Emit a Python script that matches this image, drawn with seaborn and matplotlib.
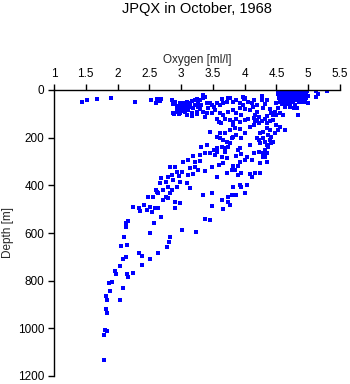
import matplotlib
matplotlib.use("Agg")
import matplotlib.pyplot as plt
import seaborn as sns
import pandas as pd

title = "JPQX in October, 1968"
x_label = "Oxygen [ml/l]"
y_label = "Depth [m]"
x_ticks = [1, 1.5, 2, 2.5, 3, 3.5, 4, 4.5, 5, 5.5]
x_tick_labels = ["1", "1.5", "2", "2.5", "3", "3.5", "4", "4.5", "5", "5.5"]
y_ticks = [0, 200, 400, 600, 800, 1000, 1200]

# (oxygen [ml/l], depth [m]) samples
shallow_low = [(1.44, 52), (1.52, 42), (1.67, 38), (1.89, 32), (2.28, 52), (2.52, 41),
               (2.62, 36), (2.69, 36), (2.60, 53), (2.66, 46), (2.86, 43), (2.89, 56),
               (2.91, 59), (2.93, 77), (2.97, 80), (2.89, 102), (2.97, 102)]

upper_cluster = [(2.85, 42), (2.87, 59), (2.90, 60), (2.98, 56), (3.04, 53), (3.09, 49), (3.14, 53),
                 (3.17, 46), (3.22, 63), (3.27, 53), (3.30, 42), (3.35, 35), (3.38, 28), (3.40, 56),
                 (3.45, 53), (3.48, 63), (3.51, 70), (2.93, 77), (2.98, 81), (3.06, 91), (3.11, 84),
                 (3.17, 98), (3.25, 91), (3.30, 81), (3.35, 91), (3.40, 98), (3.48, 98), (3.53, 84),
                 (3.56, 56), (3.61, 63), (3.66, 56), (3.72, 49), (3.77, 35), (3.82, 49), (3.87, 42),
                 (3.93, 56), (3.98, 63), (4.00, 35), (4.06, 49), (4.11, 56), (4.14, 42), (2.88, 98),
                 (2.98, 98), (3.09, 105), (3.17, 109), (3.25, 101), (3.38, 115), (3.61, 98), (3.66, 105),
                 (3.74, 91), (3.82, 84), (3.87, 98), (3.93, 77), (3.95, 105), (4.00, 81), (4.08, 84),
                 (4.13, 70), (4.16, 105), (4.19, 91), (4.22, 112), (4.29, 77), (4.32, 59), (4.35, 42),
                 (4.40, 81), (4.42, 98), (4.45, 105), (4.48, 91), (4.50, 105), (4.53, 77), (4.56, 98),
                 (4.61, 105), (4.63, 70), (4.66, 56), (4.71, 70), (4.77, 77), (4.82, 77), (4.84, 105),
                 (4.79, 63), (4.50, 56), (4.27, 42), (4.19, 63), (2.90, 49), (2.96, 67), (3.01, 70),
                 (3.06, 63), (3.11, 67), (3.19, 77), (3.04, 81), (3.14, 73), (3.32, 63), (2.93, 91),
                 (3.01, 87), (3.22, 42), (3.27, 70), (3.43, 77), (3.34, 21), (3.38, 31), (3.25, 39),
                 (3.65, 38), (3.73, 35), (3.98, 28), (3.99, 38), (4.27, 25)]

surface_block = [(4.52, 2), (4.58, 2), (4.63, 3), (4.68, 2), (4.73, 2), (4.78, 3), (4.83, 2), (4.88, 3),
                 (4.93, 2), (4.98, 4), (4.55, 9), (4.61, 8), (4.66, 10), (4.71, 8), (4.76, 10), (4.81, 9),
                 (4.86, 11), (4.91, 9), (4.96, 12), (4.53, 17), (4.59, 16), (4.64, 18), (4.69, 17),
                 (4.74, 19), (4.79, 16), (4.84, 18), (4.89, 20), (4.94, 17), (4.56, 25), (4.62, 24),
                 (4.67, 27), (4.72, 25), (4.77, 28), (4.82, 26), (4.87, 24), (4.92, 29), (4.54, 33),
                 (4.60, 35), (4.65, 33), (4.70, 36), (4.75, 34), (4.80, 37), (4.85, 33), (4.90, 36),
                 (4.97, 35), (4.57, 42), (4.63, 44), (4.68, 41), (4.73, 45), (4.78, 43), (4.83, 42),
                 (4.55, 51), (4.61, 53), (4.66, 50), (4.71, 55), (4.76, 52), (4.58, 60), (4.64, 62),
                 (4.69, 59), (4.85, 50), (4.90, 52), (4.95, 49), (5.00, 53), (4.95, 41), (4.99, 27),
                 (5.13, 6), (5.16, 17), (5.29, 3), (5.13, 31)]

mid_layer = [(3.56, 123), (3.59, 133), (3.62, 140), (3.69, 123), (3.77, 126), (3.82, 133), (3.87, 123),
             (3.93, 133), (4.00, 126), (4.06, 123), (4.14, 119), (4.20, 126), (4.27, 129), (4.32, 123),
             (4.35, 137), (4.40, 129), (4.45, 126), (4.50, 147), (4.56, 154), (4.63, 168), (3.82, 147),
             (3.85, 161), (3.93, 165), (4.00, 179), (3.77, 168), (3.69, 182), (3.61, 182), (3.45, 175),
             (4.08, 154), (4.14, 147), (4.22, 140), (4.24, 182), (4.29, 175), (4.35, 161), (4.40, 168),
             (4.37, 189), (4.42, 196), (4.48, 182), (3.56, 196), (3.61, 203), (3.66, 210), (3.72, 217),
             (3.77, 224), (3.80, 203), (3.82, 196), (3.87, 189), (3.95, 203), (3.74, 238), (3.69, 245),
             (3.64, 238), (3.56, 245), (3.51, 252), (3.40, 231), (3.32, 238), (3.90, 252), (3.93, 245),
             (4.08, 231), (4.22, 210), (4.24, 224), (4.29, 203), (4.32, 217), (4.35, 231), (4.37, 238),
             (4.40, 210), (4.42, 224), (4.45, 217), (4.35, 111), (4.16, 132), (4.53, 167), (4.19, 202),
             (4.32, 251)]

deep_layer = [(3.19, 277), (3.30, 273), (3.38, 263), (3.45, 266), (3.53, 273), (3.56, 259), (3.64, 280),
              (3.69, 259), (3.72, 287), (3.03, 301), (3.11, 294), (3.22, 301), (3.30, 297), (3.48, 322),
              (3.59, 315), (3.66, 308), (2.82, 322), (2.90, 322), (3.01, 343), (2.93, 343), (2.85, 357),
              (3.14, 329), (3.22, 322), (3.27, 336), (3.11, 357), (3.19, 353), (3.38, 339), (3.56, 364),
              (3.72, 350), (2.69, 371), (2.77, 385), (2.80, 364), (2.67, 392), (2.98, 385), (3.09, 392),
              (3.14, 413), (2.93, 406), (2.80, 406), (2.61, 420), (2.64, 434), (2.56, 448), (2.72, 462),
              (2.90, 469), (2.98, 476), (2.90, 497), (3.35, 441), (3.48, 434), (3.64, 462), (3.74, 448),
              (3.48, 487), (3.66, 501), (3.74, 469), (3.38, 543), (3.45, 546), (2.69, 532), (2.57, 557),
              (3.87, 277), (3.95, 269), (4.03, 280), (4.14, 263), (4.22, 259), (4.29, 266), (4.35, 263),
              (4.32, 283), (4.11, 294), (3.93, 301), (4.00, 294), (3.82, 319), (3.90, 319), (3.80, 336),
              (3.85, 336), (3.95, 350), (3.90, 357), (4.08, 352), (4.11, 364), (4.16, 347), (4.24, 350),
              (4.35, 301), (4.24, 305), (4.29, 280), (3.82, 406), (3.93, 399), (3.95, 408), (4.03, 399),
              (4.00, 431), (3.80, 441), (3.87, 441), (3.77, 483), (2.48, 448), (2.51, 490), (2.41, 483),
              (2.33, 497), (2.25, 493), (2.35, 507), (2.46, 504), (2.97, 361), (2.88, 378), (2.72, 420),
              (2.85, 420), (2.77, 448), (2.62, 427), (2.59, 497), (2.64, 497), (2.54, 511), (2.80, 455),
              (2.83, 434), (3.01, 588), (3.24, 597)]

abyss = [(2.17, 550), (2.14, 557), (2.13, 576), (2.51, 599), (2.10, 618), (2.06, 653), (2.15, 650),
         (2.82, 618), (2.81, 637), (2.78, 657), (2.33, 683), (2.38, 697), (2.64, 685), (2.51, 711),
         (2.38, 734), (2.08, 711), (2.14, 702), (2.04, 739), (1.96, 758), (1.98, 772), (2.15, 772),
         (2.16, 783), (2.24, 769), (1.87, 811), (1.91, 807), (2.09, 832), (1.88, 843), (1.82, 864),
         (1.84, 881), (2.04, 881), (1.82, 919), (1.84, 937), (1.81, 1007), (1.83, 1010), (1.78, 1028),
         (1.78, 1133)]

df = pd.DataFrame(shallow_low + upper_cluster + surface_block + mid_layer + deep_layer + abyss,
                  columns=["oxygen", "depth"])

sns.set_style("ticks")
plt.rcParams["font.family"] = ["Liberation Sans", "DejaVu Sans"]

W, H = 350, 384
fig = plt.figure(figsize=(W / 100, H / 100), dpi=100)
ax = fig.add_axes([54 / W, 8 / H, 286 / W, 286 / H])

sns.scatterplot(data=df, x="oxygen", y="depth", marker="s", s=5, color="#0000ff",
                linewidth=0, ax=ax, legend=False)

ax.set_xlim(1, 5.5)
ax.set_ylim(1200, 0)
ax.xaxis.tick_top()
ax.xaxis.set_label_position("top")
ax.set_xticks(x_ticks)
ax.set_xticklabels(x_tick_labels)
ax.set_yticks(y_ticks)
ax.set_yticklabels([str(v) for v in y_ticks])
ax.set_xlabel(x_label, fontsize=8.5, labelpad=4)
ax.set_ylabel(y_label, fontsize=8.5, labelpad=3)
for side in ["bottom", "right"]:
    ax.spines[side].set_visible(False)
for side in ["top", "left"]:
    ax.spines[side].set_color("black")
    ax.spines[side].set_linewidth(1)
ax.tick_params(direction="out", length=4.5, width=1, color="black", labelsize=8.5,
               labelcolor="black", pad=2.5)
ax.grid(False)

fig.text(197 / W, 1 - 2 / H, title, ha="center", va="top", fontsize=10.5, color="black")

fig.savefig("out.png", dpi=100, facecolor="white")
